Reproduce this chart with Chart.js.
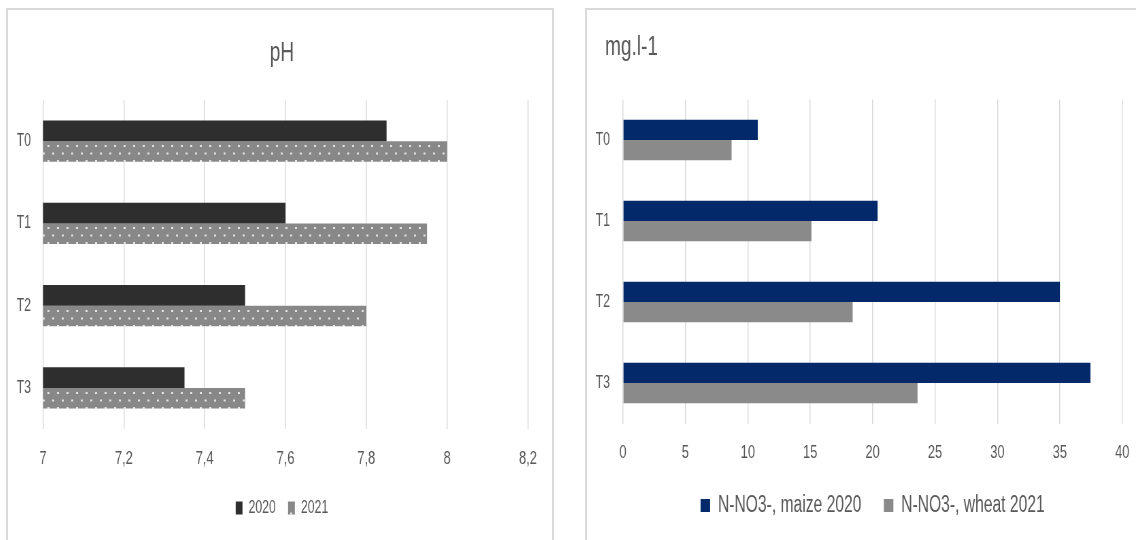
<!DOCTYPE html>
<html>
<head>
<meta charset="utf-8">
<script src="https://cdn.jsdelivr.net/npm/chart.js@4.4.1/dist/chart.umd.min.js"></script>
<style>
  html, body { margin: 0; padding: 0; background: #ffffff; overflow: hidden; width: 1136px; height: 540px; }
  .panel { position: absolute; box-sizing: border-box; border: 2px solid #dadada; border-bottom: none; background: #ffffff; }
  canvas { position: absolute; }
</style>
</head>
<body>
<div class="panel" style="left:6px;top:8px;width:548px;height:560px"></div>
<div class="panel" style="left:585px;top:8px;width:600px;height:560px"></div>
<canvas id="phChart" width="800" height="530" style="left:8px;top:10px;width:544px;height:530px"></canvas>
<canvas id="no3Chart" width="807" height="530" style="left:587px;top:10px;width:548.76px;height:530px"></canvas>
<script>
// Treatments
const treatments = ['T0', 'T1', 'T2', 'T3'];

// Soil pH per treatment
const ph2020 = [7.85, 7.6, 7.5, 7.35];
const ph2021 = [8.0, 7.95, 7.8, 7.5];
const phTicks = ['7', '7,2', '7,4', '7,6', '7,8', '8', '8,2'];

// Nitrate nitrogen, mg.l-1
const no3Maize2020 = [10.8, 20.4, 35.0, 37.45];
const no3Wheat2021 = [8.7, 15.1, 18.4, 23.6];
const no3Ticks = ['0', '5', '10', '15', '20', '25', '30', '35', '40'];

const FONT = "'Liberation Sans', Arial, sans-serif";
const TEXT = '#595959';
const GRID = '#d9d9d9';

// Canvases are drawn wide and shown narrower, giving the condensed lettering.
// Grey tile with staggered light dots for the 2021 pH bars.
function dotPattern(ctx, offsetY) {
  const tile = document.createElement('canvas');
  tile.width = 14; tile.height = 15;
  const t = tile.getContext('2d');
  t.fillStyle = '#888888';
  t.fillRect(0, 0, 14, 15);
  t.fillStyle = '#e2e2e2';
  t.fillRect(2, 4, 3, 2);
  t.fillRect(9, 11.5, 3, 2);
  const p = ctx.createPattern(tile, 'repeat');
  if (offsetY) p.setTransform(new DOMMatrix([1, 0, 0, 1, 0, offsetY]));
  return p;
}

function dottedFill(c) {
  if (c.type !== 'data') return dotPattern(c.chart.ctx, 0);
  const ys = c.chart.scales.y;
  return dotPattern(c.chart.ctx, Math.round(ys.getPixelForValue(c.dataIndex)));
}

const common = {
  indexAxis: 'y',
  responsive: false,
  maintainAspectRatio: false,
  devicePixelRatio: 1,
  animation: false,
  events: []
};

new Chart(document.getElementById('phChart'), {
  type: 'bar',
  data: {
    labels: treatments,
    datasets: [
      { label: '2020', data: ph2020, backgroundColor: '#2e2e2e', categoryPercentage: 0.5, barPercentage: 1.0 },
      { label: '2021', data: ph2021, backgroundColor: dottedFill, categoryPercentage: 0.5, barPercentage: 1.0 }
    ]
  },
  options: Object.assign({}, common, {
    layout: { padding: { left: 41, right: 35.3, top: 0, bottom: 13 } },
    plugins: {
      title: {
        display: true, text: 'pH', color: TEXT,
        font: { family: FONT, size: 28, weight: 'normal' },
        padding: { top: 26.2, bottom: 30.2 }
      },
      legend: {
        position: 'bottom',
        labels: {
          color: TEXT, font: { family: FONT, size: 18 },
          boxWidth: 10, boxHeight: 13, padding: 18
        }
      },
      tooltip: { enabled: false }
    },
    scales: {
      x: {
        type: 'linear', min: 7, max: 8.2,
        ticks: {
          stepSize: 0.2, color: TEXT, padding: 0, maxRotation: 0,
          font: { family: FONT, size: 19 },
          callback: (v, i) => phTicks[i]
        },
        grid: { color: GRID, lineWidth: 1.5, drawTicks: true, tickLength: 18.6, tickColor: 'rgba(0,0,0,0)' },
        border: { display: false },
        afterFit: (s) => { s.height = 52; }
      },
      y: {
        ticks: { color: TEXT, mirror: true, padding: -38.7, font: { family: FONT, size: 18 } },
        grid: { display: false },
        border: { display: false },
        afterFit: (s) => { s.width = 10.5; }
      }
    }
  })
});

new Chart(document.getElementById('no3Chart'), {
  type: 'bar',
  data: {
    labels: treatments,
    datasets: [
      { label: 'N-NO3-, maize 2020', data: no3Maize2020, backgroundColor: '#03296b', categoryPercentage: 0.5, barPercentage: 1.0 },
      { label: 'N-NO3-, wheat 2021', data: no3Wheat2021, backgroundColor: '#8a8a8a', categoryPercentage: 0.5, barPercentage: 1.0 }
    ]
  },
  options: Object.assign({}, common, {
    layout: { padding: { left: 26.5, right: 20.2, top: 0, bottom: 13 } },
    plugins: {
      title: {
        display: true, text: 'mg.l-1', align: 'start', color: TEXT,
        font: { family: FONT, size: 28, weight: 'normal' },
        padding: { top: 20.2, bottom: 35.7 }
      },
      legend: {
        position: 'bottom',
        fullSize: false,
        labels: {
          color: TEXT, font: { family: FONT, size: 23 },
          boxWidth: 14, boxHeight: 13, padding: 33
        }
      },
      tooltip: { enabled: false }
    },
    scales: {
      x: {
        type: 'linear', min: 0, max: 40,
        ticks: {
          stepSize: 5, color: TEXT, padding: 0, maxRotation: 0,
          font: { family: FONT, size: 19 },
          callback: (v, i) => no3Ticks[i]
        },
        grid: { color: GRID, lineWidth: 1.5, drawTicks: true, tickLength: 18.1, tickColor: 'rgba(0,0,0,0)' },
        border: { display: false },
        afterFit: (s) => { s.height = 37.5; }
      },
      y: {
        ticks: { color: TEXT, mirror: true, padding: -40.1, font: { family: FONT, size: 18 } },
        grid: { display: false },
        border: { display: false },
        afterFit: (s) => { s.width = 26.4; }
      }
    }
  })
});
</script>
</body>
</html>
